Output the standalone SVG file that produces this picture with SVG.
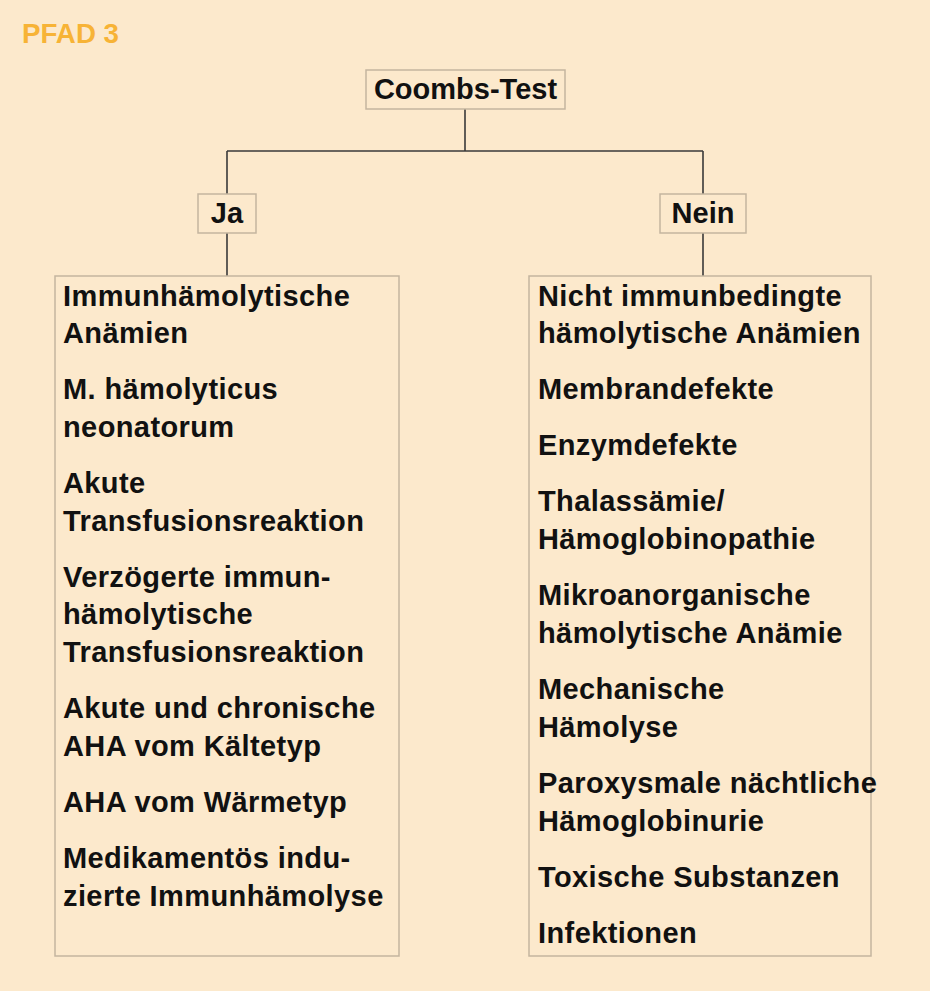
<svg xmlns="http://www.w3.org/2000/svg" width="930" height="991" viewBox="0 0 930 991">
<style>
.bg{fill:#FCE9CC}
.box{fill:#FCE9CC;stroke:#C4B59F;stroke-width:1.5}
.t{font-family:"Liberation Sans",Arial,sans-serif;font-weight:bold;font-size:29px;fill:#111}
.l{letter-spacing:0.4px}
.c{text-anchor:middle}
.h{font-family:"Liberation Sans",Arial,sans-serif;font-weight:bold;font-size:28px;fill:#F7B336}
.ln{stroke:#3a3a3a;stroke-width:1.6;fill:none}
</style>
<rect class="bg" x="0" y="0" width="930" height="991"/>
<text class="h" x="22" y="43" textLength="97" lengthAdjust="spacingAndGlyphs">PFAD 3</text>
<g id="connectors">
<path class="ln" d="M465 109 V151 M227 151 H703 M227 151 V194 M703 151 V194 M227 233 V276 M703 233 V276"/>
</g>
<g id="coombs">
<rect class="box" x="366" y="70" width="199" height="39"/>
<text class="t c" x="465.5" y="99">Coombs-Test</text>
</g>
<g id="ja">
<rect class="box" x="198" y="194" width="58" height="39"/>
<text class="t c" x="227" y="223">Ja</text>
</g>
<g id="nein">
<rect class="box" x="660" y="194" width="86" height="39"/>
<text class="t c" x="703" y="223">Nein</text>
</g>
<g id="ja-list" class="t l">
<rect class="box" x="55" y="276" width="344" height="680"/>
<text x="63" y="306">Immunhämolytische</text>
<text x="63" y="343">Anämien</text>
<text x="63" y="399">M. hämolyticus</text>
<text x="63" y="437">neonatorum</text>
<text x="63" y="493">Akute</text>
<text x="63" y="531">Transfusionsreaktion</text>
<text x="63" y="587">Verzögerte immun-</text>
<text x="63" y="624">hämolytische</text>
<text x="63" y="662">Transfusionsreaktion</text>
<text x="63" y="718">Akute und chronische</text>
<text x="63" y="756">AHA vom Kältetyp</text>
<text x="63" y="812">AHA vom Wärmetyp</text>
<text x="63" y="868">Medikamentös indu-</text>
<text x="63" y="906">zierte Immunhämolyse</text>
</g>
<g id="nein-list" class="t l">
<rect class="box" x="529" y="276" width="342" height="680"/>
<text x="538" y="306">Nicht immunbedingte</text>
<text x="538" y="343">hämolytische Anämien</text>
<text x="538" y="399">Membrandefekte</text>
<text x="538" y="455">Enzymdefekte</text>
<text x="538" y="511">Thalassämie/</text>
<text x="538" y="549">Hämoglobinopathie</text>
<text x="538" y="605">Mikroanorganische</text>
<text x="538" y="643">hämolytische Anämie</text>
<text x="538" y="699">Mechanische</text>
<text x="538" y="737">Hämolyse</text>
<text x="538" y="793">Paroxysmale nächtliche</text>
<text x="538" y="831">Hämoglobinurie</text>
<text x="538" y="887">Toxische Substanzen</text>
<text x="538" y="943">Infektionen</text>
</g>
</svg>
